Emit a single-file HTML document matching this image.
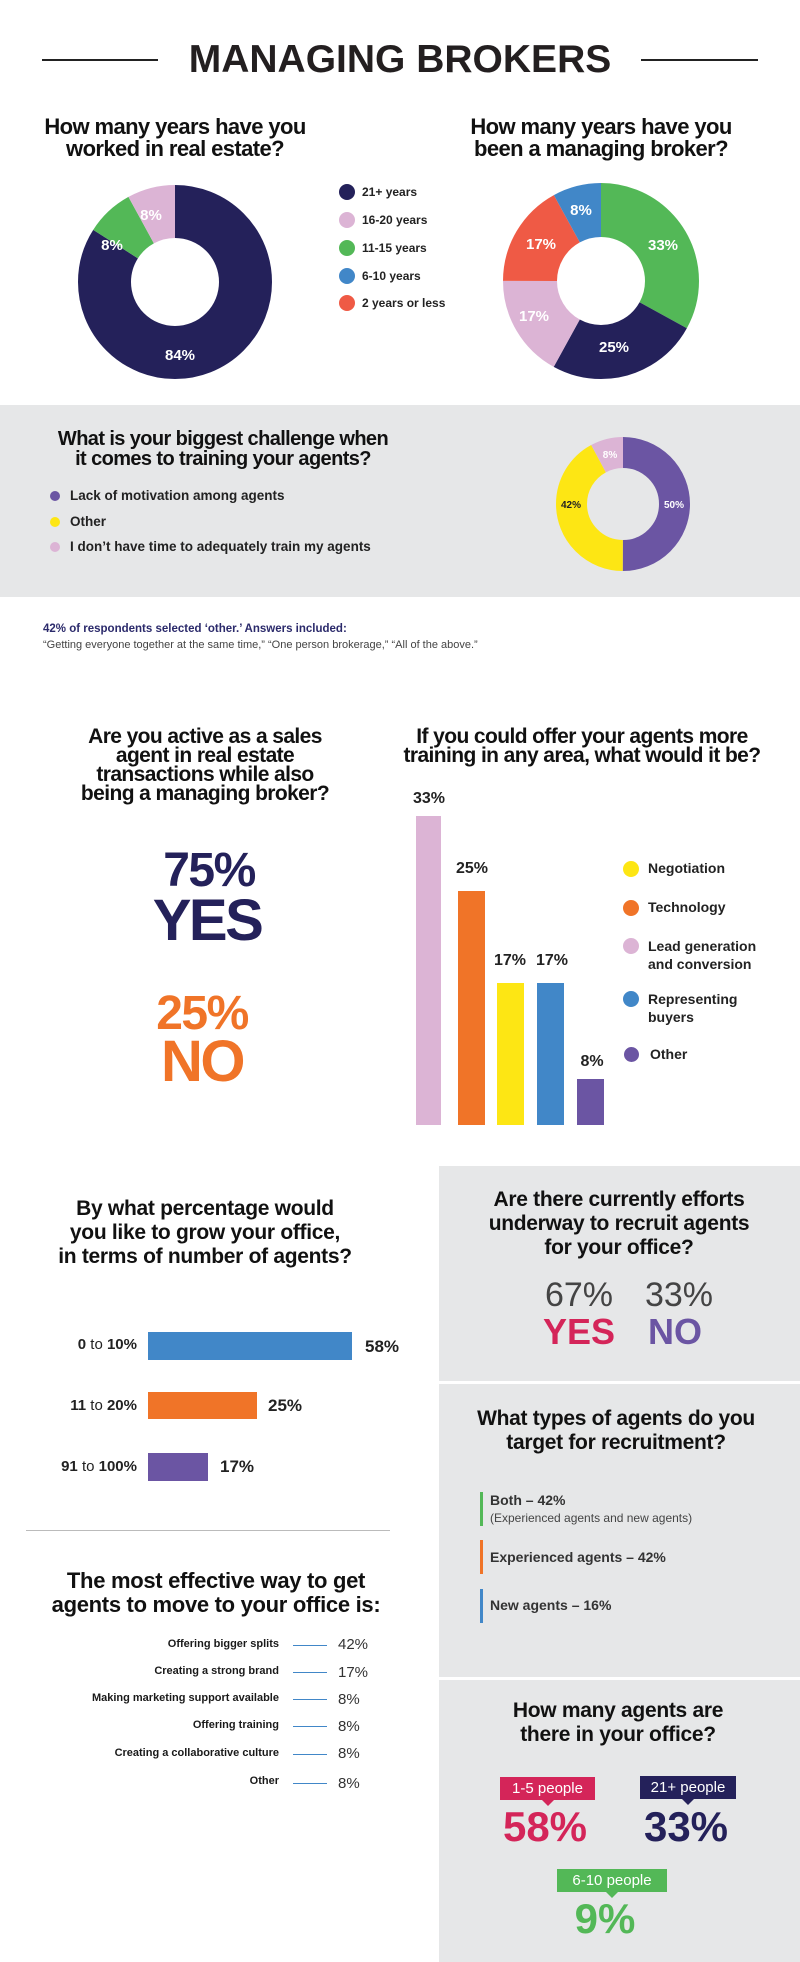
<!DOCTYPE html>
<html><head><meta charset="utf-8">
<style>
*{margin:0;padding:0;box-sizing:border-box}
body{width:800px;height:1962px;position:relative;background:#fff;font-family:"Liberation Sans",sans-serif;color:#1a1a1a;overflow:hidden}
.a{position:absolute;white-space:nowrap}
.c{transform:translateX(-50%);text-align:center}
.t{font-weight:bold;font-size:22px;line-height:22px;letter-spacing:-0.6px;color:#111}
.t2{font-weight:bold;font-size:21px;line-height:24px;letter-spacing:-0.3px;color:#111}
.lg{font-weight:bold;font-size:12px;color:#222}
.dot{position:absolute;border-radius:50%}
.pill{position:absolute;color:#fff;font-size:15px;text-align:center;line-height:23px}
.pill:after{content:"";position:absolute;left:50%;bottom:-6px;margin-left:-6px;border-left:6px solid transparent;border-right:6px solid transparent;border-top:6px solid var(--c)}
</style></head><body>

<!-- header -->
<div class="a" style="left:42px;top:59px;width:116px;height:2px;background:#222"></div>
<div class="a" style="left:641px;top:59px;width:117px;height:2px;background:#222"></div>
<div class="a c" style="left:400px;top:38px;font-size:39px;font-weight:900;color:#231f20;line-height:44px">MANAGING BROKERS</div>

<!-- Q1 -->
<div class="a c t" style="left:175px;top:116px">How many years have you<br>worked in real estate?</div>
<svg class="a" style="left:0;top:0" width="800" height="600">
<g transform="translate(175,282) rotate(-90)" fill="none" stroke-width="53">
<circle r="70.5" stroke="#24215a" stroke-dasharray="372.1 443" />
<circle r="70.5" stroke="#53b857" stroke-dasharray="35.4 443" stroke-dashoffset="-372.1"/>
<circle r="70.5" stroke="#dcb4d5" stroke-dasharray="35.5 443" stroke-dashoffset="-407.5"/>
</g>
<g transform="translate(601,281) rotate(-90)" fill="none" stroke-width="54">
<circle r="71" stroke="#53b857" stroke-dasharray="147.2 446.1"/>
<circle r="71" stroke="#24215a" stroke-dasharray="111.5 446.1" stroke-dashoffset="-147.2"/>
<circle r="71" stroke="#dcb4d5" stroke-dasharray="75.8 446.1" stroke-dashoffset="-258.7"/>
<circle r="71" stroke="#ef5a45" stroke-dasharray="75.8 446.1" stroke-dashoffset="-334.5"/>
<circle r="71" stroke="#4187c8" stroke-dasharray="35.8 446.1" stroke-dashoffset="-410.3"/>
</g>
<g font-family="Liberation Sans" font-weight="bold" font-size="15" fill="#fff" text-anchor="middle">
<text x="180" y="360">84%</text><text x="112" y="250">8%</text><text x="151" y="220">8%</text>
<text x="663" y="250">33%</text><text x="614" y="352">25%</text><text x="534" y="321">17%</text><text x="541" y="249">17%</text><text x="581" y="215">8%</text>
</g>
</svg>
<div class="dot" style="left:339px;top:184px;width:16px;height:16px;background:#24215a"></div>
<div class="dot" style="left:339px;top:212px;width:16px;height:16px;background:#dcb4d5"></div>
<div class="dot" style="left:339px;top:240px;width:16px;height:16px;background:#53b857"></div>
<div class="dot" style="left:339px;top:268px;width:16px;height:16px;background:#4187c8"></div>
<div class="dot" style="left:339px;top:295px;width:16px;height:16px;background:#ef5a45"></div>
<div class="a lg" style="left:362px;top:185px">21+ years</div>
<div class="a lg" style="left:362px;top:213px">16-20 years</div>
<div class="a lg" style="left:362px;top:241px">11-15 years</div>
<div class="a lg" style="left:362px;top:269px">6-10 years</div>
<div class="a lg" style="left:362px;top:296px">2 years or less</div>

<div class="a c t" style="left:601px;top:116px">How many years have you<br>been a managing broker?</div>

<!-- gray band -->
<div class="a" style="left:0;top:405px;width:800px;height:192px;background:#e6e7e8"></div>
<div class="a c t" style="left:223px;top:429px;font-size:20px;line-height:20px">What is your biggest challenge when<br>it comes to training your agents?</div>
<div class="dot" style="left:50px;top:491px;width:10px;height:10px;background:#6b55a3"></div>
<div class="dot" style="left:50px;top:517px;width:10px;height:10px;background:#fde614"></div>
<div class="dot" style="left:50px;top:542px;width:10px;height:10px;background:#dcb4d5"></div>
<div class="a lg" style="left:70px;top:488px;font-size:13.5px">Lack of motivation among agents</div>
<div class="a lg" style="left:70px;top:514px;font-size:13.5px">Other</div>
<div class="a lg" style="left:70px;top:539px;font-size:13.5px">I don’t have time to adequately train my agents</div>
<svg class="a" style="left:540px;top:420px" width="170" height="170">
<g transform="translate(83,84) rotate(-90)" fill="none" stroke-width="31">
<circle r="51.5" stroke="#6b55a3" stroke-dasharray="161.8 323.6"/>
<circle r="51.5" stroke="#fde614" stroke-dasharray="135.9 323.6" stroke-dashoffset="-161.8"/>
<circle r="51.5" stroke="#dcb4d5" stroke-dasharray="25.9 323.6" stroke-dashoffset="-297.7"/>
</g>
<g font-family="Liberation Sans" font-weight="bold" font-size="10" text-anchor="middle">
<text x="134" y="88" fill="#fff">50%</text><text x="31" y="88" fill="#222">42%</text><text x="70" y="38" fill="#fff">8%</text>
</g>
</svg>

<div class="a" style="left:43px;top:623px;font-size:11.5px;font-weight:bold;color:#2b2a6b">42% of respondents selected ‘other.’ Answers included:</div>
<div class="a" style="left:43px;top:639px;font-size:11px;color:#444">“Getting everyone together at the same time,” “One person brokerage,” “All of the above.”</div>

<!-- Q4 -->
<div class="a c t" style="left:205px;top:727px;line-height:19px;font-size:21px">Are you active as a sales<br>agent in real estate<br>transactions while also<br>being a managing broker?</div>
<div class="a c" style="left:209px;top:844px;font-size:48px;font-weight:bold;color:#24215a;letter-spacing:-1.5px;line-height:54px">75%</div>
<div class="a c" style="left:207px;top:889px;font-size:58px;font-weight:bold;color:#24215a;letter-spacing:-2.5px;line-height:64px">YES</div>
<div class="a c" style="left:202px;top:987px;font-size:48px;font-weight:bold;color:#f07428;letter-spacing:-1.5px;line-height:54px">25%</div>
<div class="a c" style="left:202px;top:1030px;font-size:58px;font-weight:bold;color:#f07428;letter-spacing:-2.5px;line-height:64px">NO</div>

<!-- Q5 -->
<div class="a c t" style="left:582px;top:727px;font-size:21px;line-height:19px">If you could offer your agents more<br>training in any area, what would it be?</div>
<div class="a" style="left:416px;top:816px;width:25px;height:309px;background:#dcb4d5"></div>
<div class="a" style="left:458px;top:891px;width:27px;height:234px;background:#f07428"></div>
<div class="a" style="left:497px;top:983px;width:27px;height:142px;background:#fde614"></div>
<div class="a" style="left:537px;top:983px;width:27px;height:142px;background:#4187c8"></div>
<div class="a" style="left:577px;top:1079px;width:27px;height:46px;background:#6b55a3"></div>
<div class="a c" style="left:429px;top:790px;font-size:16px;font-weight:bold;color:#222">33%</div>
<div class="a c" style="left:472px;top:860px;font-size:16px;font-weight:bold;color:#222">25%</div>
<div class="a c" style="left:510px;top:952px;font-size:16px;font-weight:bold;color:#222">17%</div>
<div class="a c" style="left:552px;top:952px;font-size:16px;font-weight:bold;color:#222">17%</div>
<div class="a c" style="left:592px;top:1053px;font-size:16px;font-weight:bold;color:#222">8%</div>
<div class="dot" style="left:623px;top:861px;width:16px;height:16px;background:#fde614"></div>
<div class="dot" style="left:623px;top:900px;width:16px;height:16px;background:#f07428"></div>
<div class="dot" style="left:623px;top:938px;width:16px;height:16px;background:#dcb4d5"></div>
<div class="dot" style="left:623px;top:991px;width:16px;height:16px;background:#4187c8"></div>
<div class="dot" style="left:624px;top:1047px;width:15px;height:15px;background:#6b55a3"></div>
<div class="a lg" style="left:648px;top:860px;font-size:14px">Negotiation</div>
<div class="a lg" style="left:648px;top:899px;font-size:14px">Technology</div>
<div class="a lg" style="left:648px;top:937px;font-size:14px;line-height:18px">Lead generation<br>and conversion</div>
<div class="a lg" style="left:648px;top:990px;font-size:14px;line-height:18px">Representing<br>buyers</div>
<div class="a lg" style="left:650px;top:1046px;font-size:14px">Other</div>

<!-- right gray panel -->
<div class="a" style="left:439px;top:1166px;width:361px;height:796px;background:#e6e7e8"></div>
<div class="a" style="left:439px;top:1381px;width:361px;height:3px;background:#fff"></div>
<div class="a" style="left:439px;top:1677px;width:361px;height:3px;background:#fff"></div>

<!-- Q6 -->
<div class="a c t2" style="left:205px;top:1197px">By what percentage would<br>you like to grow your office,<br>in terms of number of agents?</div>
<div class="a" style="left:148px;top:1332px;width:204px;height:28px;background:#4187c8"></div>
<div class="a" style="left:148px;top:1392px;width:109px;height:27px;background:#f07428"></div>
<div class="a" style="left:148px;top:1453px;width:60px;height:28px;background:#6b55a3"></div>
<div class="a" style="right:663px;top:1336px;font-size:15px;font-weight:bold;color:#222">0 <span style="font-weight:normal">to</span> 10%</div>
<div class="a" style="right:663px;top:1397px;font-size:15px;font-weight:bold;color:#222">11 <span style="font-weight:normal">to</span> 20%</div>
<div class="a" style="right:663px;top:1458px;font-size:15px;font-weight:bold;color:#222">91 <span style="font-weight:normal">to</span> 100%</div>
<div class="a" style="left:365px;top:1337px;font-size:17px;font-weight:bold;color:#222">58%</div>
<div class="a" style="left:268px;top:1396px;font-size:17px;font-weight:bold;color:#222">25%</div>
<div class="a" style="left:220px;top:1457px;font-size:17px;font-weight:bold;color:#222">17%</div>
<div class="a" style="left:26px;top:1530px;width:364px;height:1px;background:#bbb"></div>

<!-- Q7 -->
<div class="a c t2" style="left:216px;top:1569px;font-size:22px">The most effective way to get<br>agents to move to your office is:</div>
<div class="a" style="right:521px;top:1638px;font-size:11px;font-weight:bold">Offering bigger splits</div>
<div class="a" style="right:521px;top:1665px;font-size:11px;font-weight:bold">Creating a strong brand</div>
<div class="a" style="right:521px;top:1692px;font-size:11px;font-weight:bold">Making marketing support available</div>
<div class="a" style="right:521px;top:1719px;font-size:11px;font-weight:bold">Offering training</div>
<div class="a" style="right:521px;top:1747px;font-size:11px;font-weight:bold">Creating a collaborative culture</div>
<div class="a" style="right:521px;top:1775px;font-size:11px;font-weight:bold">Other</div>
<div class="a" style="left:293px;top:1645px;width:34px;height:1px;background:#4187c8"></div>
<div class="a" style="left:293px;top:1672px;width:34px;height:1px;background:#4187c8"></div>
<div class="a" style="left:293px;top:1699px;width:34px;height:1px;background:#4187c8"></div>
<div class="a" style="left:293px;top:1726px;width:34px;height:1px;background:#4187c8"></div>
<div class="a" style="left:293px;top:1754px;width:34px;height:1px;background:#4187c8"></div>
<div class="a" style="left:293px;top:1783px;width:34px;height:1px;background:#4187c8"></div>
<div class="a" style="left:338px;top:1636px;font-size:15px;color:#333">42%</div>
<div class="a" style="left:338px;top:1664px;font-size:15px;color:#333">17%</div>
<div class="a" style="left:338px;top:1691px;font-size:15px;color:#333">8%</div>
<div class="a" style="left:338px;top:1718px;font-size:15px;color:#333">8%</div>
<div class="a" style="left:338px;top:1745px;font-size:15px;color:#333">8%</div>
<div class="a" style="left:338px;top:1775px;font-size:15px;color:#333">8%</div>

<!-- Q8 -->
<div class="a c t2" style="left:619px;top:1188px">Are there currently efforts<br>underway to recruit agents<br>for your office?</div>
<div class="a c" style="left:579px;top:1275px;font-size:34px;color:#444;line-height:40px">67%</div>
<div class="a c" style="left:679px;top:1275px;font-size:34px;color:#444;line-height:40px">33%</div>
<div class="a c" style="left:579px;top:1311px;font-size:36px;font-weight:bold;color:#d42559;line-height:42px">YES</div>
<div class="a c" style="left:675px;top:1311px;font-size:36px;font-weight:bold;color:#6b55a3;line-height:42px">NO</div>

<!-- Q9 -->
<div class="a c t2" style="left:616px;top:1407px">What types of agents do you<br>target for recruitment?</div>
<div class="a" style="left:480px;top:1492px;width:3px;height:34px;background:#53b857"></div>
<div class="a" style="left:480px;top:1540px;width:3px;height:34px;background:#f07428"></div>
<div class="a" style="left:480px;top:1589px;width:3px;height:34px;background:#4187c8"></div>
<div class="a" style="left:490px;top:1492px;font-size:14px;font-weight:bold;color:#333">Both – 42%</div>
<div class="a" style="left:490px;top:1511px;font-size:12px;color:#444">(Experienced agents and new agents)</div>
<div class="a" style="left:490px;top:1549px;font-size:14px;font-weight:bold;color:#333">Experienced agents – 42%</div>
<div class="a" style="left:490px;top:1597px;font-size:14px;font-weight:bold;color:#333">New agents – 16%</div>

<!-- Q10 -->
<div class="a c t2" style="left:618px;top:1699px">How many agents are<br>there in your office?</div>
<div class="pill" style="--c:#d42559;left:500px;top:1777px;width:95px;background:#d42559">1-5 people</div>
<div class="pill" style="--c:#24215a;left:640px;top:1776px;width:96px;background:#24215a">21+ people</div>
<div class="pill" style="--c:#53b857;left:557px;top:1869px;width:110px;background:#53b857">6-10 people</div>
<div class="a c" style="left:545px;top:1803px;font-size:42px;font-weight:bold;color:#d42559;line-height:48px">58%</div>
<div class="a c" style="left:686px;top:1803px;font-size:42px;font-weight:bold;color:#24215a;line-height:48px">33%</div>
<div class="a c" style="left:605px;top:1895px;font-size:42px;font-weight:bold;color:#53b857;line-height:48px">9%</div>

</body></html>
